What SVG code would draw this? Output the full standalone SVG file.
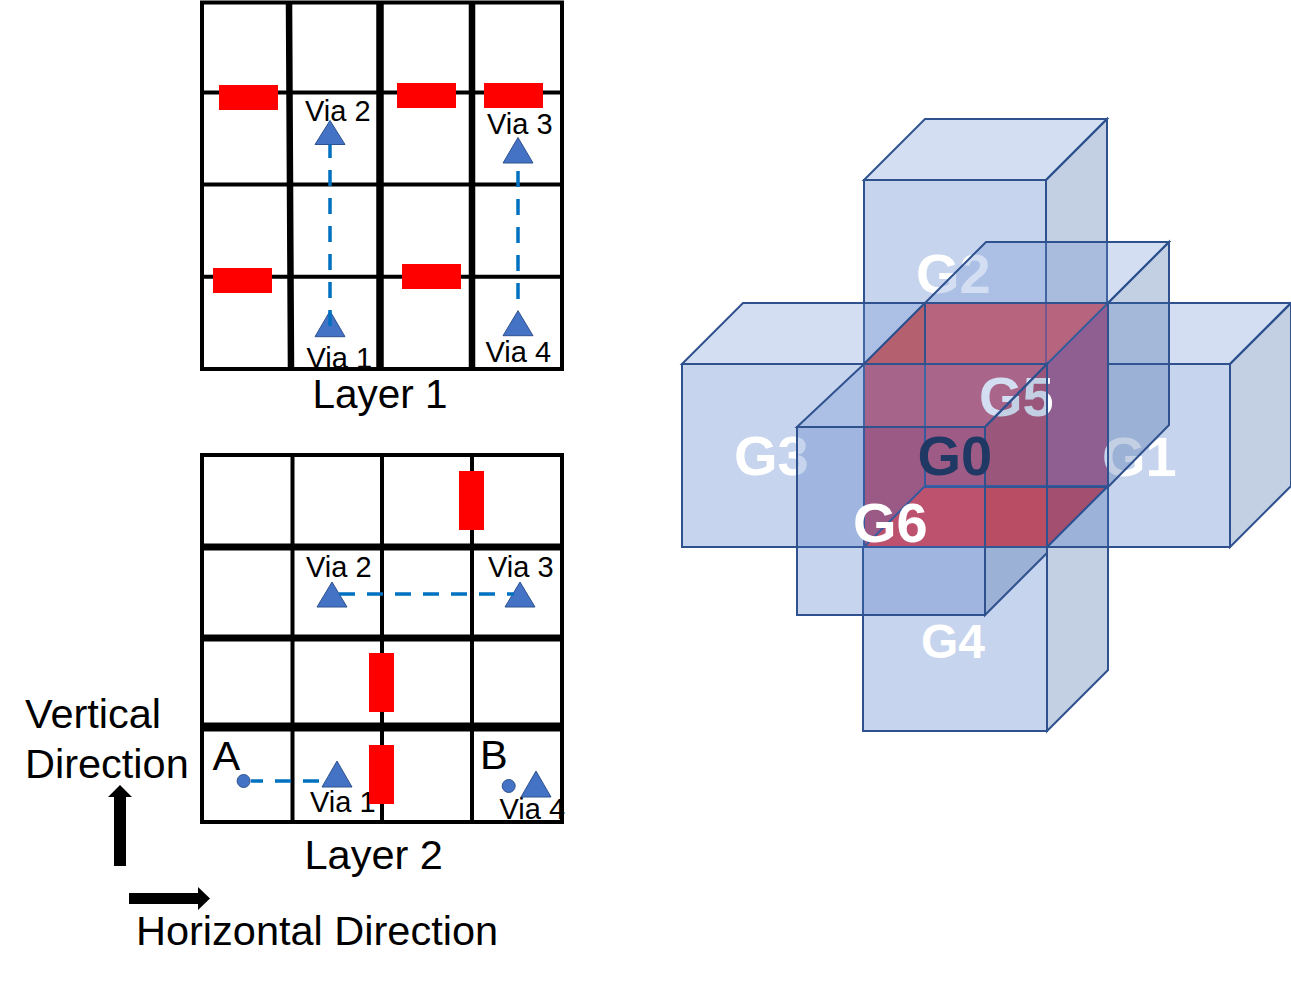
<svg xmlns="http://www.w3.org/2000/svg" width="1291" height="981" viewBox="0 0 1291 981">
<style>
text{font-family:"Liberation Sans",Arial,sans-serif;fill:#000}
.via{font-size:29px}
.big{font-size:41.500px}
.g{font-size:56px;font-weight:bold;fill:#fff}
.grid{fill:none;stroke:#000;stroke-width:4}
.wire{stroke:#000;fill:none}
.red{fill:#f00}
.tri,.dot{fill:#4472C4;stroke:#2F528F;stroke-width:1}
.dash{stroke:#0070C0;stroke-width:3.500;fill:none;stroke-dasharray:16 12}
.f,.t,.s{stroke:#2F528F;stroke-width:2}
.f{fill:#4472C4;fill-opacity:.3}
.t{fill:#6C91D4;fill-opacity:.3}
.s{fill:#375FA2;fill-opacity:.3}
.edge{fill:none;stroke:#2F528F;stroke-width:2}
</style>
<g id="layer1">
<path class="wire" stroke-width="4" d="M202 92.500H562M202 184.500H562M202 276.700H562"/>
<path class="wire" stroke-width="6.500" d="M289 2L291 369M472 2V369"/>
<path class="wire" stroke-width="7.500" d="M380 2V369"/>
<rect class="red" x="219" y="85" width="59" height="25"/>
<rect class="red" x="397" y="83" width="59" height="25"/>
<rect class="red" x="484" y="83" width="59" height="25"/>
<rect class="red" x="213" y="268" width="59" height="25"/>
<rect class="red" x="402" y="264" width="59" height="25"/>
<text class="via" x="305" y="121">Via 2</text>
<text class="via" x="487" y="133.500">Via 3</text>
<text class="via" x="306.500" y="368">Via 1</text>
<text class="via" x="485.500" y="361.500">Via 4</text>
<polygon class="tri" points="330,120.500 345,144.500 315,144.500"/>
<polygon class="tri" points="518,137.500 533,163 503,163"/>
<polygon class="tri" points="330,311 345,336.700 315,336.700"/>
<polygon class="tri" points="518,310.700 533,335.700 503,335.700"/>
<rect class="grid" x="202" y="2.500" width="360" height="366.500"/>
<text class="big" x="312.500" y="407.500" style="font-size:40.500px">Layer 1</text>
</g>
<g id="layer2">
<path class="wire" stroke-width="4" d="M292.500 455V822M382 455V822M472 455V822"/>
<path class="wire" stroke-width="7" d="M202 547H562M202 638H562"/>
<path class="wire" stroke-width="9" d="M202 727H562"/>
<text class="via" x="306" y="577">Via 2</text>
<text class="via" x="488" y="577">Via 3</text>
<text class="via" x="310" y="812">Via 1</text>
<text class="via" x="499.500" y="819">Via 4</text>
<rect class="red" x="459" y="471" width="25" height="59"/>
<rect class="red" x="369" y="653" width="25" height="59"/>
<rect class="red" x="369" y="745" width="25" height="59"/>
<rect class="grid" x="202" y="455" width="360" height="367"/>
<text class="big" x="212.500" y="770">A</text>
<text class="big" x="480" y="769">B</text>
<polygon class="tri" points="332,582 347,607 317,607"/>
<polygon class="tri" points="520,582 535,607 505,607"/>
<polygon class="tri" points="337,761 352,787 322,787"/>
<polygon class="tri" points="536,771 551,797 521,797"/>
<circle class="dot" cx="243.600" cy="781" r="6.500"/>
<circle class="dot" cx="508.700" cy="786" r="6.500"/>
<text class="big" x="304.500" y="869">Layer 2</text>
</g>
<g id="connectors">
<path class="dash" d="M330 326V144.500"/>
<path class="dash" d="M518 171V299"/>
<path class="dash" d="M339 594H514"/>
<path class="dash" d="M251 781H322" stroke-dashoffset="4"/>
</g>
<g id="directions">
<text class="big" x="25" y="728">Vertical</text>
<text class="big" x="25" y="778">Direction</text>
<polygon points="114,866 126,866 126,797 132,797 120,785 108,797 114,797"/>
<polygon points="129,893 198,893 198,887 210,898.500 198,910 198,904 129,904"/>
<text class="big" x="136" y="945">Horizontal Direction</text>
</g>
<g id="G2">
<polygon class="t" points="864,180 925,119 1107,119 1046,180"/>
<polygon class="s" points="1046,180 1107,119 1107,303 1046,364"/>
<rect class="f" x="864" y="180" width="182" height="184"/>
<text class="g" x="916" y="293">G2</text>
</g>
<g id="G4">
<polygon class="s" points="1047,547 1108,486 1108,670 1047,731"/>
<rect class="f" x="863" y="547" width="184" height="184"/>
<text class="g" x="921" y="658" style="font-size:48px">G4</text>
</g>
<g id="G3">
<polygon class="t" points="682,364 743,303 925,303 864,364"/>
<rect class="f" x="682" y="364" width="182" height="183"/>
<text class="g" x="734" y="475">G3</text>
</g>
<g id="G1">
<polygon class="t" points="1047,364 1108,303 1291,303 1230,364"/>
<polygon class="s" points="1230,364 1291,303 1291,486 1230,547"/>
<rect class="f" x="1047" y="364" width="183" height="183"/>
</g>
<g id="G0">
<polygon fill="#b5606f" points="864,364 925,303 925,364"/>
<polygon fill="#e96161" points="925,303 1108,303 1047,364 925,364"/>
<polygon fill="#ae587a" points="1047,364 1108,303 1108,486 1047,486"/>
<polygon fill="#a24f70" points="1047,486 1108,486 1047,547"/>
<polygon fill="#c0516a" points="864,364 925,364 925,486 864,547"/>
<polygon fill="#fc4545" points="925,364 1047,364 1047,486 925,486"/>
<polygon fill="#ef454a" points="864,547 925,486 1047,486 1047,547"/>
<path class="edge" d="M864 364L925 303H1108L1047 364M864 364H1047V547H864ZM1047 547L1108 486V303M864 547L925 486H1108M925 303V486"/>
<path d="M1046 303V364" fill="none" stroke="#8a4f78" stroke-width="2"/>
</g>
<g id="G1-label">
<text class="g" x="1102" y="476">G1</text>
</g>
<g id="G5">
<polygon class="t" points="925,303 986,242 1169,242 1108,303"/>
<polygon class="s" points="1108,303 1169,242 1169,425 1108,487"/>
<rect class="f" x="925" y="303" width="183" height="184"/>
<text class="g" x="979" y="416">G5</text>
</g>
<g id="G6">
<polygon class="t" points="797,427 864,364 1047,364 985,427"/>
<polygon class="s" points="985,427 1047,364 1047,553 985,615"/>
<rect class="f" x="797" y="427" width="188" height="188"/>
<text class="g" x="853" y="542">G6</text>
</g>
<g id="G0-label">
<text class="g" x="917.500" y="475" style="fill:#1F3864">G0</text>
</g>
</svg>
